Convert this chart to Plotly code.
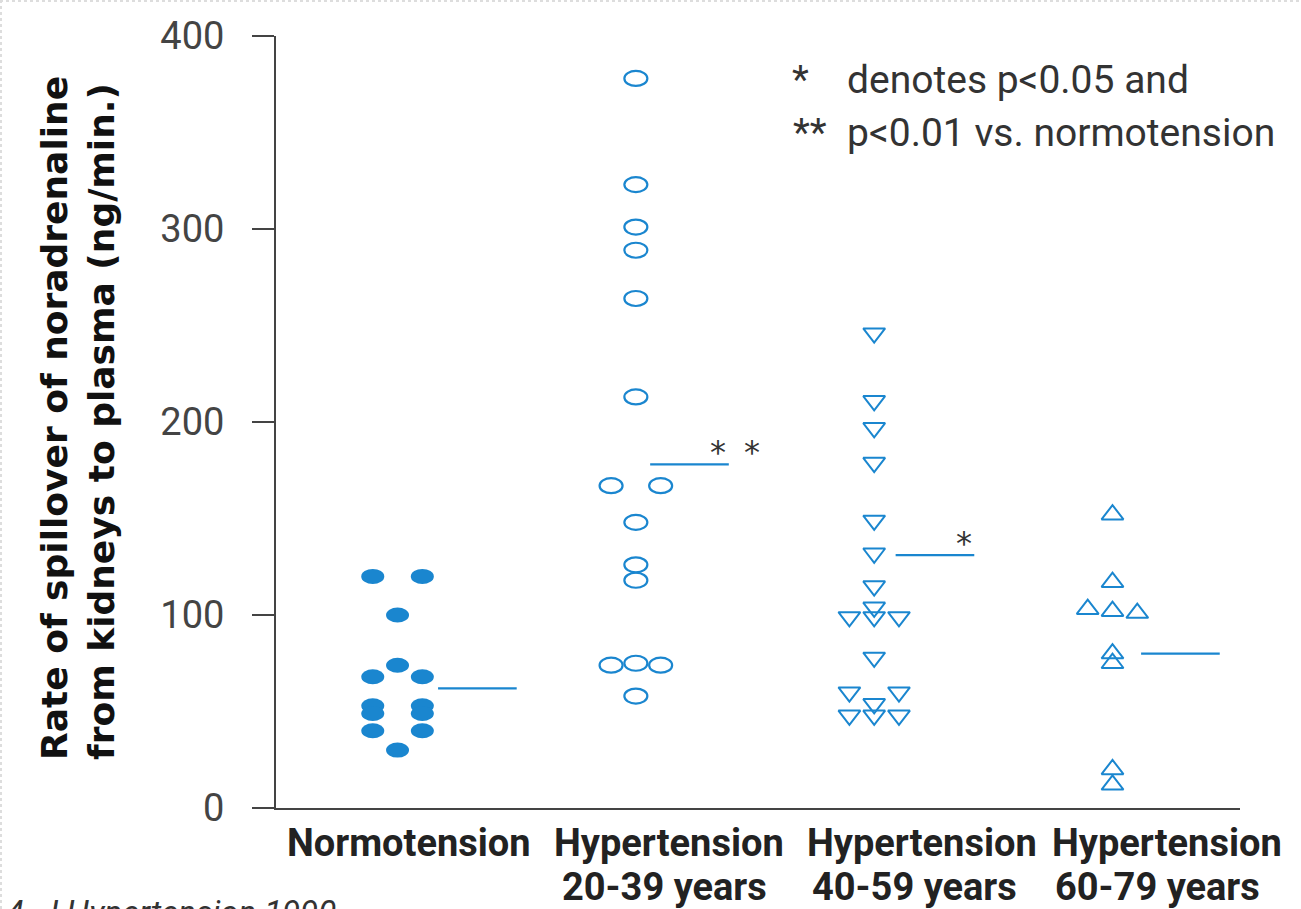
import plotly.graph_objects as go

# Group labels along the x axis
categories = ["Normotension", "Hypertension<br>20-39 years",
              "Hypertension<br>40-59 years", "Hypertension<br>60-79 years"]

# Renal noradrenaline spillover per subject (ng/min), by group
normo_vals = [120, 120, 100, 74, 68, 68, 53, 53, 49, 49, 40, 40, 30]
h20_vals = [378, 323, 301, 289, 264, 213, 167, 167, 148, 126, 118, 75, 74, 74, 58]
h40_vals = [246, 211, 197, 179, 149, 132, 115, 104, 99, 99, 99, 78, 60, 60, 54, 48, 48, 48]
h60_vals = [152, 117, 103, 102, 101, 80, 75, 20, 12]

# Group means drawn as short horizontal bars
group_means = [62, 178, 131, 80]

# Significance vs. normotension per group
significance = ["", "**", "*", ""]

# Side-by-side slot of each point within its group (-1 left, 0 centre, 1 right)
normo_cols = [-1, 1, 0, 0, -1, 1, -1, 1, -1, 1, -1, 1, 0]
h20_cols = [0, 0, 0, 0, 0, 0, -1, 1, 0, 0, 0, 0, -1, 1, 0]
h40_cols = [0, 0, 0, 0, 0, 0, 0, 0, -1, 0, 1, 0, -1, 1, 0, -1, 0, 1]
h60_cols = [0, 0, -1, 0, 1, 0, 0, 0, 0]

BLUE = "#1a86cf"
AXIS = "#444444"
SLOT = 0.104          # horizontal spacing of side-by-side points (x units)
MEAN_START = [0.17, 0.06, 0.09, 0.12]
MEAN_LEN = 0.33
# category labels sit slightly right of their point columns (x units, per line)
LABEL_SHIFT = [[0.05], [0.14, 0.12], [0.20, 0.17], [0.23, 0.19]]

fig = go.Figure()
shapes = []


def xs(group, cols):
    return [group + c * SLOT for c in cols]


# Normotension: filled ellipses; 20-39 years: open ellipses
for g, vals, cols, filled in [(0, normo_vals, normo_cols, True),
                              (1, h20_vals, h20_cols, False)]:
    for x, y in zip(xs(g, cols), vals):
        shapes.append(dict(
            type="circle", xref="x", yref="y",
            xsizemode="pixel", ysizemode="pixel",
            xanchor=x, yanchor=y, x0=-11.5, x1=11.5, y0=-7.5, y1=7.5,
            fillcolor=BLUE if filled else "rgba(0,0,0,0)",
            line=dict(color=BLUE, width=0 if filled else 2.2),
            layer="above",
        ))

# 40-59 years: open down-triangles
fig.add_trace(go.Scatter(
    x=xs(2, h40_cols), y=h40_vals, mode="markers",
    marker=dict(symbol="triangle-down-open", size=19, color=BLUE,
                line=dict(width=2, color=BLUE)),
    showlegend=False, hoverinfo="y",
))

# 60-79 years: open up-triangles
fig.add_trace(go.Scatter(
    x=xs(3, h60_cols), y=h60_vals, mode="markers",
    marker=dict(symbol="triangle-up-open", size=19, color=BLUE,
                line=dict(width=2, color=BLUE)),
    showlegend=False, hoverinfo="y",
))

# Mean bars
for g, m in enumerate(group_means):
    x0 = g + MEAN_START[g]
    fig.add_trace(go.Scatter(
        x=[x0, x0 + MEAN_LEN], y=[m, m], mode="lines",
        line=dict(color=BLUE, width=2.2),
        showlegend=False, hoverinfo="skip",
    ))

annotations = []

# Significance asterisks next to the mean bars
for g, (m, sig) in enumerate(zip(group_means, significance)):
    end = g + MEAN_START[g] + MEAN_LEN
    for k in range(len(sig)):
        annotations.append(dict(
            x=end - 0.045 + k * 0.143, y=m, xref="x", yref="y",
            text="*", showarrow=False, yshift=-9,
            font=dict(family="DejaVu Sans", size=32, color="#333333"),
            xanchor="center", yanchor="bottom",
        ))

# Category labels under the axis, one annotation per text line
label_font = dict(family="Roboto", size=38, color="#222222", weight="bold")
for g, cat in enumerate(categories):
    for k, line in enumerate(cat.split("<br>")):
        annotations.append(dict(
            x=g + LABEL_SHIFT[g][k], y=0, xref="x", yref="y",
            yshift=-(35 + 44 * k),
            text=line, showarrow=False, font=label_font,
            xanchor="center", yanchor="middle",
        ))

# Key for the asterisks
key_font = dict(family="Roboto", size=39, color="#333333")
annotations += [
    dict(x=800, y=80, text="*", font=key_font, xanchor="center"),
    dict(x=845, y=80, text="denotes p<0.05 and", font=key_font, xanchor="left"),
    dict(x=810, y=133, text="**", font=key_font, xanchor="center"),
    dict(x=845, y=133, text="p<0.01 vs. normotension", font=key_font, xanchor="left"),
]

# Axis title: two bold lines, rotated
title_font = dict(family="DejaVu Sans", size=36, color="#111111", weight="bold")
annotations += [
    dict(x=54, y=418, text="Rate of spillover of noradrenaline", textangle=-90,
         font=title_font, xanchor="center"),
    dict(x=101, y=422, text="from kidneys to plasma (ng/min.)", textangle=-90,
         font=title_font, xanchor="center"),
]

# Source line along the bottom edge
annotations.append(dict(
    x=4, y=891, text="<i>4. J Hypertension 1990</i>",
    font=dict(family="Roboto", size=33, color="#333333"),
    xanchor="left", yanchor="top",
))

# pixel positions (from the top-left corner) -> paper fractions
L, R, T, B = 276, 61, 36, 101
W, H = 1301, 909
pw, ph = W - L - R, H - T - B
for a in annotations:
    if a.get("xref") is None:
        a["xref"], a["yref"] = "paper", "paper"
        a["x"] = (a["x"] - L) / pw
        a["y"] = (H - a["y"] - B) / ph
        a.setdefault("yanchor", "middle")
    a["showarrow"] = False

# faint dotted page edge at the top and left
for x0, y0, x1, y1 in [(0, 1, W, 1), (1, 0, 1, H)]:
    shapes.append(dict(
        type="line", xref="paper", yref="paper",
        x0=(x0 - L) / pw, x1=(x1 - L) / pw,
        y0=(H - y0 - B) / ph, y1=(H - y1 - B) / ph,
        line=dict(color="#dddddd", width=2, dash="dot"),
    ))

fig.update_layout(
    width=W, height=H,
    margin=dict(l=L, r=R, t=T, b=B, pad=0, autoexpand=False),
    paper_bgcolor="white", plot_bgcolor="white",
    shapes=shapes, annotations=annotations,
    showlegend=False,
    xaxis=dict(
        range=[-0.51, 3.535], tickvals=[0, 1, 2, 3], showticklabels=False,
        showline=True, linecolor=AXIS, linewidth=2, ticks="",
        showgrid=False, zeroline=False, fixedrange=True, automargin=False,
    ),
    yaxis=dict(
        range=[0, 400], tickvals=[0, 100, 200, 300, 400],
        showline=True, linecolor=AXIS, linewidth=2,
        ticks="outside", ticklen=22, tickwidth=2, tickcolor=AXIS,
        showgrid=False, zeroline=False, fixedrange=True, automargin=False,
        tickfont=dict(family="Roboto", size=38, color="#444444"),
        ticklabelstandoff=20,
    ),
)

fig.write_html("out.html")
